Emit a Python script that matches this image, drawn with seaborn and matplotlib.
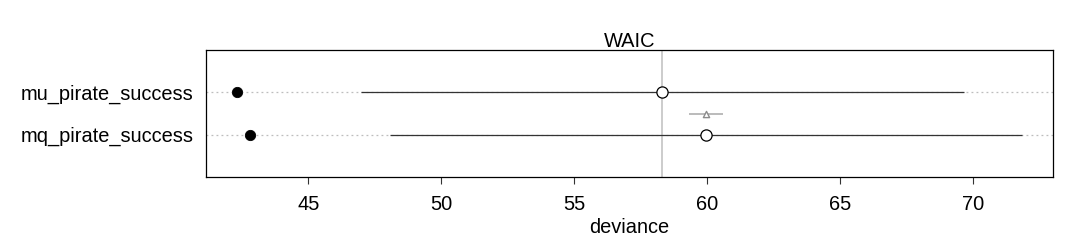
import matplotlib
matplotlib.use("Agg")
import matplotlib.pyplot as plt
import seaborn as sns
import pandas as pd

models = ["mu_pirate_success", "mq_pirate_success"]
in_sample = [42.32, 42.81]          # filled dots (in-sample deviance)
waic = [58.30, 59.95]               # open circles (WAIC)
waic_lo = [46.98, 48.07]
waic_hi = [69.65, 71.83]
dwaic_center = [59.95]              # triangle (difference)
dwaic_lo = [59.31]
dwaic_hi = [60.59]
xticks = [45, 50, 55, 60, 65, 70]

sns.set_theme(style="white")
plt.rcParams["font.family"] = ["Liberation Sans", "DejaVu Sans"]
plt.rcParams["text.color"] = "black"
plt.rcParams["axes.labelcolor"] = "black"
plt.rcParams["xtick.color"] = "black"
plt.rcParams["ytick.color"] = "black"

ypos = [2, 1]
df = pd.DataFrame({"model": models, "y": ypos, "insample": in_sample, "waic": waic,
                   "lo": waic_lo, "hi": waic_hi})

fig = plt.figure(figsize=(10.8, 2.4), dpi=100)
ax = fig.add_axes([206 / 1080, 1 - 177 / 240, (1053 - 206) / 1080, 127 / 240])

ax.set_xlim(41.15, 73.0)
ax.set_ylim(0.0, 3.0)

# dotted guide lines
for y in ypos:
    ax.axhline(y, color="#bdbdbd", lw=0.9, ls=(0, (1.5, 2.5)), zorder=1)

# reference line at best WAIC
ax.axvline(min(waic), color="#c4c4c4", lw=1.2, zorder=1)

# WAIC intervals
ax.hlines(df["y"], df["lo"], df["hi"], color="#333333", lw=0.9, zorder=2)

# dWAIC interval and triangle
ax.hlines([1.5], dwaic_lo, dwaic_hi, color="#b5b5b5", lw=1.3, zorder=2)
sns.scatterplot(x=dwaic_center, y=[1.5], ax=ax, marker="^", s=20, facecolor="white",
                edgecolor="#8c8c8c", linewidth=1.0, zorder=3, legend=False)

# in-sample deviance
sns.scatterplot(data=df, x="insample", y="y", ax=ax, color="black", s=55,
                edgecolor="black", linewidth=0.6, zorder=4, legend=False)
# WAIC points
sns.scatterplot(data=df, x="waic", y="y", ax=ax, facecolor="white", s=65,
                edgecolor="black", linewidth=0.9, zorder=4, legend=False)

ax.set_yticks(ypos)
ax.set_yticklabels(models, fontsize=14.4)
ax.set_xticks(xticks)
ax.set_xticklabels([str(t) for t in xticks], fontsize=14.4)
ax.tick_params(axis="y", length=0, pad=9)
ax.tick_params(axis="x", length=5, width=0.8, color="#333333", pad=8, direction="out",
               bottom=True)
ax.set_xlabel("deviance", fontsize=14.4, labelpad=3)
ax.set_ylabel("")
ax.set_title("WAIC", fontsize=14.4, pad=2)
for s in ax.spines.values():
    s.set_color("black")
    s.set_linewidth(0.9)

fig.savefig("out.png", dpi=100)
